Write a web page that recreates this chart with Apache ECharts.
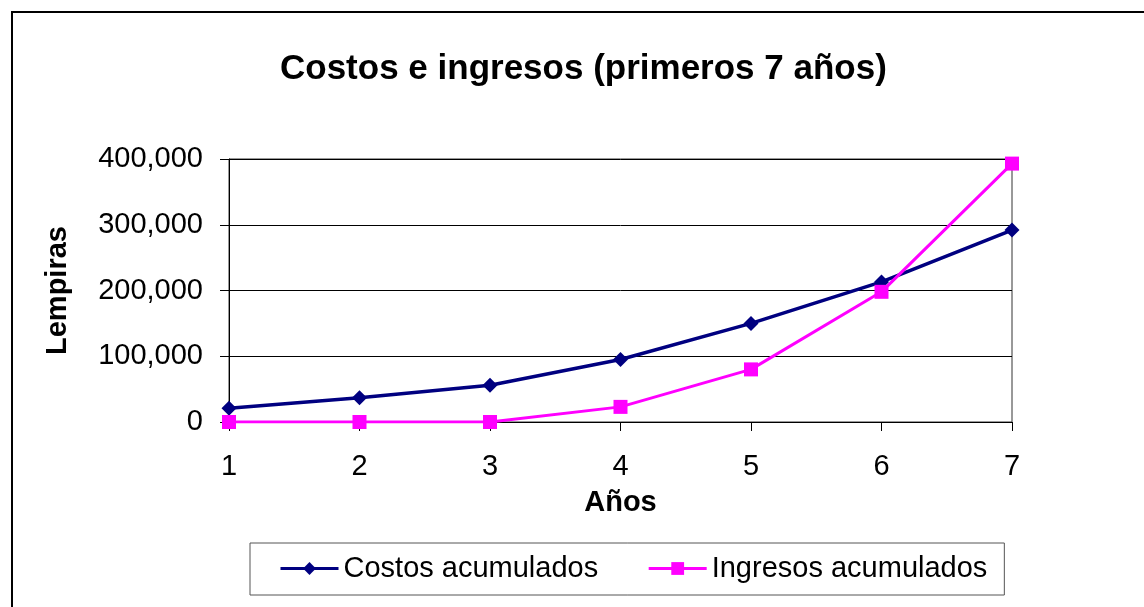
<!DOCTYPE html>
<html>
<head>
<meta charset="utf-8">
<script src="https://cdn.jsdelivr.net/npm/echarts@6/dist/echarts.min.js"></script>
<style>
  html, body { margin: 0; padding: 0; background: #fff; }
  #chart { width: 1144px; height: 607px; }
</style>
</head>
<body>
<div id="chart"></div>
<script>
var anios = ['1', '2', '3', '4', '5', '6', '7'];
var costosAcumulados = [21000, 37000, 56000, 95000, 150000, 213000, 292000];
var ingresosAcumulados = [0, 0, 0, 23000, 80000, 198000, 393000];
var yTicks = [0, 100000, 200000, 300000, 400000];

var fuente = '"Liberation Sans", Arial, sans-serif';

var chart = echarts.init(document.getElementById('chart'));
var option = {
    backgroundColor: '#fff',
    animation: false,
    title: {
        text: 'Costos e ingresos (primeros 7 años)',
        left: 280,
        top: 52,
        padding: 0,
        textStyle: { fontFamily: fuente, fontSize: 35, fontWeight: 'bold', color: '#000' }
    },
    graphic: [
        {
            type: 'rect',
            shape: { x: 12, y: 12, width: 1200, height: 700 },
            style: { fill: 'none', stroke: '#000', lineWidth: 2 },
            silent: true
        }
    ],
    legend: {
        left: 250,
        top: 543,
        padding: [11, 17, 12, 29],
        itemGap: 49,
        itemWidth: 58,
        itemHeight: 16,
        borderColor: '#555',
        borderWidth: 1,
        lineStyle: { width: 3 },
        textStyle: { fontFamily: fuente, fontSize: 29, color: '#000' },
        data: ['Costos acumulados', 'Ingresos acumulados']
    },
    grid: {
        left: 229,
        top: 159,
        width: 783,
        height: 263,
        show: true,
        borderColor: '#333',
        borderWidth: 1,
        backgroundColor: '#fff'
    },
    xAxis: {
        type: 'category',
        data: anios,
        boundaryGap: false,
        name: 'Años',
        nameLocation: 'middle',
        nameGap: 66,
        nameTextStyle: { fontFamily: fuente, fontSize: 29, fontWeight: 'bold', color: '#000' },
        axisLine: { lineStyle: { color: '#000', width: 1 } },
        axisTick: { show: true, length: 9, lineStyle: { color: '#000' } },
        axisLabel: { margin: 30, fontFamily: fuente, fontSize: 29, color: '#000' },
        splitLine: { show: false }
    },
    yAxis: {
        type: 'value',
        min: yTicks[0],
        max: yTicks[yTicks.length - 1],
        interval: 100000,
        name: 'Lempiras',
        nameLocation: 'middle',
        nameGap: 157,
        nameRotate: 90,
        nameTextStyle: { fontFamily: fuente, fontSize: 29, fontWeight: 'bold', color: '#000' },
        axisLine: { show: true, lineStyle: { color: '#000', width: 1 } },
        axisTick: { show: true, length: 9, lineStyle: { color: '#000' } },
        axisLabel: {
            margin: 26,
            fontFamily: fuente,
            fontSize: 29,
            color: '#000',
            formatter: function (v) { return v.toLocaleString('en-US'); }
        },
        splitLine: { show: true, lineStyle: { color: '#000', width: 1 } }
    },
    series: [
        {
            name: 'Costos acumulados',
            type: 'line',
            data: costosAcumulados,
            symbol: 'diamond',
            symbolSize: 15,
            color: '#000080',
            lineStyle: { width: 3.5, color: '#000080' },
            itemStyle: { color: '#000080' },
            z: 3
        },
        {
            name: 'Ingresos acumulados',
            type: 'line',
            data: ingresosAcumulados,
            symbol: 'rect',
            symbolSize: 14,
            color: '#ff00ff',
            lineStyle: { width: 3, color: '#ff00ff' },
            itemStyle: { color: '#ff00ff' },
            z: 4
        }
    ]
};
chart.setOption(option);
</script>
</body>
</html>
